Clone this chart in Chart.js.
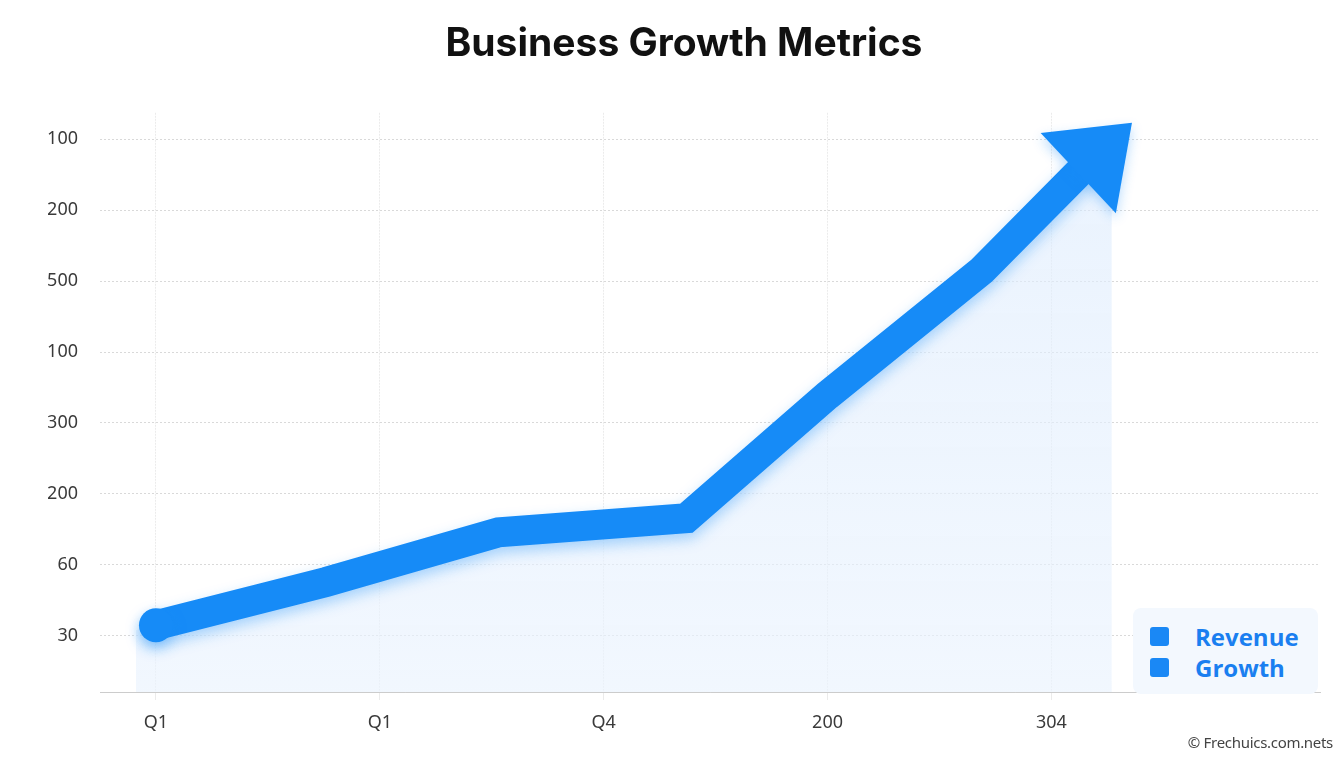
<!DOCTYPE html>
<html lang="en">
    <head>
        <meta charset="UTF-8">
        <meta name="viewport" content="width=device-width, initial-scale=1.0">
        <title>Business Growth Metrics</title>
        <script src="https://cdn.jsdelivr.net/npm/chart.js@4.4.1/dist/chart.umd.min.js"></script>
        <style>
            body, html {
                margin: 0;
                padding: 0;
                background-color: #FFFFFF;
                font-family: 'Noto Sans', sans-serif;
            }
            #wrap {
                position: relative;
                width: 1344px;
                height: 768px;
            }
            #legend {
                position: absolute;
                left: 1133px;
                top: 608px;
                width: 185px;
                height: 86px;
                box-sizing: border-box;
                padding: 13px 0 0 17px;
                background-color: #F3F8FE;
                border-radius: 8px;
            }
            .item {
                display: flex;
                align-items: center;
                height: 31px;
                font-family: 'Open Sans', sans-serif;
                font-weight: 700;
                font-size: 24px;
                color: #1A7FF0;
            }
            .item span {
                display: inline-block;
                width: 19px;
                height: 19px;
                margin-right: 26px;
                border-radius: 3px;
                background-color: #1A88F5;
            }
            #credit {
                position: absolute;
                right: 11px;
                top: 732px;
                font-family: 'Noto Sans', sans-serif;
                font-size: 15px;
                color: #444444;
                letter-spacing: -0.3px;
            }
        </style>
    </head>
    <body>
        <div id="wrap">
            <canvas id="myChart"></canvas>
            <div id="legend"></div>
            <div id="credit">&copy; Frechuics.com.nets</div>
        </div>
    </body>
    <script>
        var chartTitle = 'Business Growth Metrics'
        var xTickLabels = ['Q1', 'Q1', 'Q4', '200', '304']
        // y labels from bottom to top, as printed
        var yTickLabels = ['30', '60', '200', '300', '100', '500', '200', '100']
        var revenueX = [0, 0.76, 1.53, 2.37, 3.0, 3.69, 4.12]
        var revenueY = [1.15, 1.76, 2.46, 2.66, 4.39, 6.15, 7.52]
        var arrowTipX = 4.36
        var arrowTipY = 8.23
        var growthX = [-0.09, 0, 0.76, 1.53, 2.37, 3.0, 3.69, 4.12, 4.27]
        var growthY = [1.08, 1.15, 1.76, 2.46, 2.66, 4.39, 6.15, 7.52, 7.3]

        var blue = '#168BF7'
        var toPoints = (xs, ys) => xs.map((v, i) => { return { x: v, y: ys[i] } })

        // soft glow under the thick line
        var glowPlugin = {
            id: 'glow',
            beforeDatasetDraw(chart, args) {
                if (args.index !== 0) return
                var ctx = chart.ctx
                ctx.save()
                ctx.shadowColor = 'rgba(22, 139, 247, 0.35)'
                ctx.shadowBlur = 14
                ctx.shadowOffsetY = 6
            },
            afterDatasetDraw(chart, args) {
                if (args.index !== 0) return
                chart.ctx.restore()
            }
        }

        // arrow head on the end of the revenue line
        var arrowPlugin = {
            id: 'arrowHead',
            afterDatasetsDraw(chart) {
                var pts = chart.getDatasetMeta(0).data
                var base = pts[pts.length - 1]
                var tx = chart.scales.x.getPixelForValue(arrowTipX)
                var ty = chart.scales.y.getPixelForValue(arrowTipY)
                var dx = tx - base.x, dy = ty - base.y
                var len = Math.sqrt(dx * dx + dy * dy)
                var px = -dy / len, py = dx / len
                var half = 55
                var ctx = chart.ctx
                ctx.save()
                ctx.shadowColor = 'rgba(22, 139, 247, 0.3)'
                ctx.shadowBlur = 12
                ctx.shadowOffsetY = 5
                ctx.fillStyle = blue
                ctx.beginPath()
                ctx.moveTo(tx, ty)
                ctx.lineTo(base.x + px * half, base.y + py * half)
                ctx.lineTo(base.x - px * half, base.y - py * half)
                ctx.closePath()
                ctx.fill()
                ctx.restore()
            }
        }

        var ctx = document.getElementById('myChart').getContext('2d')
        var myChart = new Chart(ctx, {
            type: 'line',
            data: {
                datasets: [
                    {
                        label: 'Revenue',
                        data: toPoints(revenueX, revenueY),
                        borderColor: blue,
                        backgroundColor: blue,
                        borderWidth: 30,
                        borderCapStyle: 'round',
                        borderJoinStyle: 'miter',
                        tension: 0,
                        pointRadius: (c) => c.dataIndex === 0 ? 17 : 0,
                        pointBackgroundColor: blue,
                        pointBorderWidth: 0,
                        fill: false
                    },
                    {
                        label: 'Growth',
                        data: toPoints(growthX, growthY),
                        borderWidth: 0,
                        pointRadius: 0,
                        tension: 0,
                        fill: 'start',
                        backgroundColor: (c) => {
                            var area = c.chart.chartArea
                            if (!area) return 'rgba(225, 238, 253, 0.6)'
                            var g = c.chart.ctx.createLinearGradient(0, area.top, 0, area.bottom)
                            g.addColorStop(0, 'rgba(220, 235, 253, 0.6)')
                            g.addColorStop(1, 'rgba(234, 243, 254, 0.65)')
                            return g
                        }
                    }
                ]
            },
            options: {
                responsive: true,
                maintainAspectRatio: false,
                animation: false,
                layout: {
                    padding: { top: 0, right: 24, bottom: 0, left: 48 }
                },
                plugins: {
                    legend: { display: false },
                    tooltip: { enabled: false },
                    title: {
                        display: true,
                        text: chartTitle,
                        color: '#111111',
                        font: { family: 'Inter', size: 39, weight: '700', lineHeight: 1.2 },
                        padding: { top: 21, bottom: 45 }
                    }
                },
                scales: {
                    x: {
                        type: 'linear',
                        min: -0.25,
                        max: 5.2,
                        afterBuildTicks: (scale) => {
                            scale.ticks = xTickLabels.map((v, i) => { return { value: i } })
                        },
                        afterFit: (scale) => { scale.height = 76 },
                        ticks: {
                            color: '#3A3A3A',
                            font: { family: 'Noto Sans', size: 18 },
                            padding: 12,
                            maxRotation: 0,
                            callback: (v, i) => xTickLabels[i]
                        },
                        grid: {
                            color: 'rgba(0, 0, 0, 0.08)',
                            tickLength: 8,
                            lineWidth: 1
                        },
                        border: {
                            display: true,
                            color: 'rgba(0, 0, 0, 0.2)',
                            dash: [2, 1]
                        }
                    },
                    y: {
                        type: 'linear',
                        min: 0.21,
                        max: 8.37,
                        afterBuildTicks: (scale) => {
                            scale.ticks = yTickLabels.map((v, i) => { return { value: i + 1 } })
                        },
                        afterFit: (scale) => { scale.width = 52 },
                        ticks: {
                            color: '#3A3A3A',
                            font: { family: 'Noto Sans', size: 18 },
                            padding: 22,
                            callback: (v, i) => yTickLabels[i]
                        },
                        grid: {
                            color: 'rgba(0, 0, 0, 0.15)',
                            drawTicks: false,
                            lineWidth: 1
                        },
                        border: {
                            display: false,
                            dash: [2, 2]
                        }
                    }
                }
            },
            plugins: [glowPlugin, arrowPlugin]
        })

        // legend box, built from the datasets
        var legendBox = document.getElementById('legend')
        myChart.data.datasets.forEach((ds) => {
            var row = document.createElement('div')
            row.className = 'item'
            row.innerHTML = '<span></span>' + ds.label
            legendBox.appendChild(row)
        })
    </script>
</html>
